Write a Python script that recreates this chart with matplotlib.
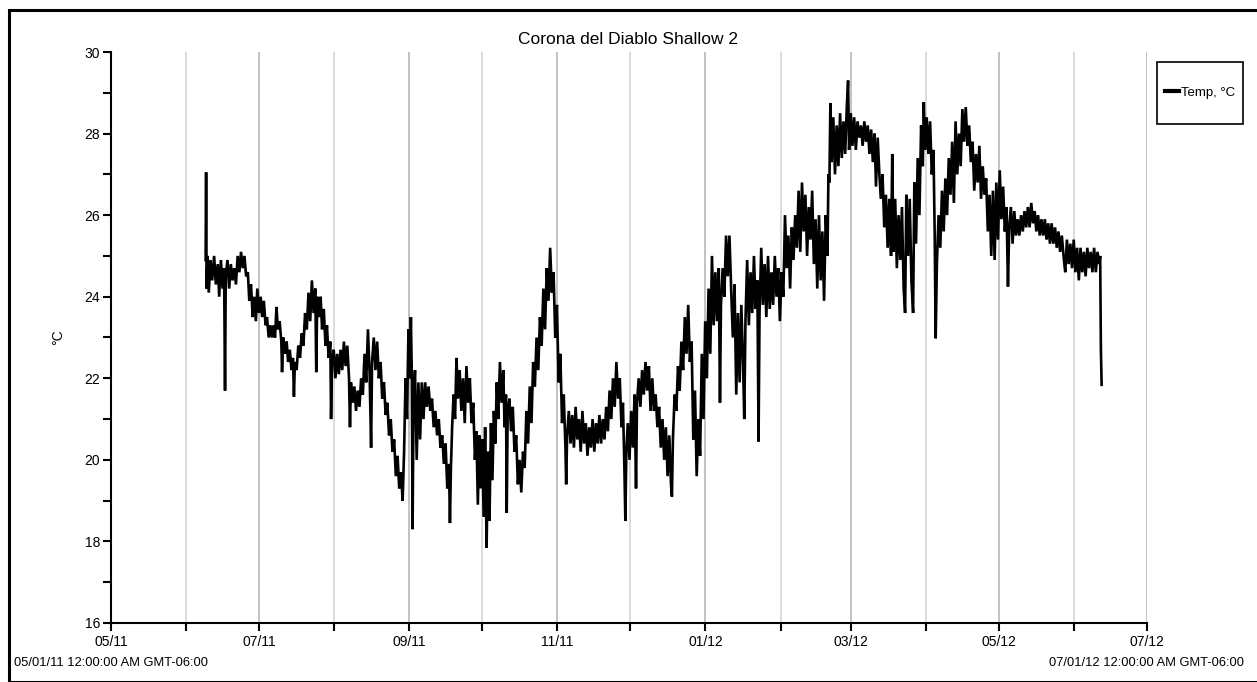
import numpy as np
import pandas as pd
import matplotlib
matplotlib.use("Agg")
import matplotlib.pyplot as plt
import matplotlib.dates as mdates
from matplotlib.patches import Rectangle

plt.rcParams['font.family'] = ['Liberation Sans', 'DejaVu Sans']

title = "Corona del Diablo Shallow 2"
series_name = "Temp, °C"
y_label = "°C"
start_label = "05/01/11 12:00:00 AM GMT-06:00"
end_label = "07/01/12 12:00:00 AM GMT-06:00"
origin = "2011-05-01"
x_start = "2011-05-01"
x_end = "2012-07-01"
y_ticks = [16, 18, 20, 22, 24, 26, 28, 30]

# day offsets from 2011-05-01 and temperatures (°C) (top/bottom of the noisy band)
days = [
 39.0, 39.2, 39.4, 39.8, 40.3, 41.0, 41.7, 42.5, 43.2, 44.0, 44.6, 45.3, 46.0, 46.6, 47.0, 47.3, 48.0, 48.7, 49.4, 50.1,
 50.8, 51.5, 52.2, 52.9, 53.6, 54.3, 55.0, 55.7, 56.4, 57.0, 57.7, 58.4, 59.0, 59.7, 60.3, 61.0, 61.7, 62.3, 63.0, 63.7,
 64.3, 65.0, 65.7, 66.3, 67.0, 67.6, 68.2, 68.8, 69.5, 70.2, 70.5, 71.0, 71.7, 72.4, 73.0, 73.7, 74.4, 75.0, 75.4, 75.8,
 76.5, 77.2, 77.9, 78.6, 79.3, 80.0, 80.7, 81.4, 82.1, 82.8, 83.5, 84.2, 84.6, 85.0, 85.7, 86.4, 87.0, 87.7, 88.4, 89.0,
 89.7, 90.4, 90.7, 91.1, 91.8, 92.5, 93.2, 93.9, 94.6, 95.3, 96.0, 96.7, 97.4, 98.1, 98.5, 98.9, 99.6, 100.3, 101.0, 101.7,
 102.4, 103.1, 103.8, 104.5, 105.2, 105.9, 106.6, 107.2, 107.6, 108.3, 109.0, 109.7, 110.4, 111.1, 111.8, 112.5, 113.2, 113.9, 114.6, 115.3,
 116.0, 116.7, 117.4, 118.1, 118.8, 119.5, 120.2, 120.8, 121.4, 122.0, 122.6, 123.2, 123.6, 124.0, 124.3, 124.7, 125.3, 126.0, 126.7, 127.4,
 128.1, 128.8, 129.5, 130.2, 130.9, 131.6, 132.3, 133.0, 133.7, 134.4, 135.1, 135.8, 136.5, 137.2, 137.9, 138.6, 139.3, 139.7, 140.1, 140.6,
 141.2, 141.8, 142.4, 143.0, 143.7, 144.4, 145.1, 145.8, 146.5, 147.2, 147.9, 148.6, 149.3, 150.0, 150.6, 151.2, 151.8, 152.4, 153.0, 153.6,
 154.2, 154.8, 155.4, 156.0, 156.6, 157.2, 157.8, 158.4, 159.0, 159.6, 160.3, 161.0, 161.7, 162.2, 162.8, 163.1, 163.5, 164.2, 164.9, 165.6,
 166.3, 167.0, 167.7, 168.4, 169.1, 169.8, 170.5, 171.2, 171.9, 172.6, 173.3, 174.0, 174.7, 175.4, 176.1, 176.8, 177.5, 178.2, 178.9, 179.6,
 180.3, 181.0, 181.7, 182.4, 183.1, 183.8, 184.5, 185.2, 185.9, 186.6, 187.3, 187.6, 188.0, 188.7, 189.4, 190.1, 190.8, 191.5, 192.2, 192.9,
 193.6, 194.3, 195.0, 195.7, 196.4, 197.1, 197.8, 198.5, 199.2, 199.9, 200.6, 201.3, 202.0, 202.7, 203.4, 204.1, 204.8, 205.5, 206.2, 206.9,
 207.6, 208.3, 209.0, 209.7, 210.4, 211.0, 211.6, 212.0, 212.4, 213.0, 213.7, 214.4, 215.1, 215.8, 216.4, 216.8, 217.5, 218.2, 218.9, 219.6,
 220.3, 221.0, 221.7, 222.4, 223.1, 223.8, 224.5, 225.2, 225.9, 226.6, 227.3, 228.0, 228.7, 229.4, 230.1, 230.8, 231.2, 231.6, 232.3, 233.0,
 233.7, 234.4, 235.1, 235.8, 236.5, 237.2, 237.9, 238.6, 239.3, 240.0, 240.7, 241.4, 242.1, 242.8, 243.5, 244.2, 244.9, 245.6, 246.3, 247.0,
 247.7, 248.4, 249.1, 249.8, 250.5, 251.0, 251.4, 252.1, 252.8, 253.5, 254.2, 254.9, 255.6, 256.3, 257.0, 257.7, 258.4, 259.1, 259.8, 260.5,
 261.0, 261.5, 262.2, 262.9, 263.6, 264.3, 265.0, 265.7, 266.4, 266.9, 267.3, 268.0, 268.7, 269.4, 270.1, 270.8, 271.5, 272.2, 272.9, 273.6,
 274.3, 275.0, 275.7, 276.4, 277.1, 277.8, 278.5, 279.2, 279.9, 280.6, 281.3, 282.0, 282.7, 283.4, 284.1, 284.8, 285.5, 286.2, 286.9, 287.6,
 288.3, 289.0, 289.7, 290.4, 291.1, 291.8, 292.5, 293.2, 293.9, 294.6, 295.3, 295.7, 296.1, 296.5, 297.0, 297.7, 298.4, 299.1, 299.8, 300.5,
 301.2, 301.9, 302.6, 303.3, 303.8, 304.2, 304.9, 305.6, 306.3, 307.0, 307.7, 308.4, 309.1, 309.8, 310.5, 311.2, 311.9, 312.6, 313.3, 314.0,
 314.7, 315.3, 316.0, 316.7, 317.3, 318.0, 318.7, 319.4, 320.1, 320.8, 321.5, 322.0, 322.5, 323.2, 323.9, 324.6, 325.3, 326.0, 326.7, 327.3,
 327.8, 328.5, 329.2, 329.9, 330.6, 331.1, 331.8, 332.5, 333.2, 333.9, 334.6, 335.0, 335.5, 336.2, 336.9, 337.6, 338.3, 339.0, 339.5, 339.9,
 340.4, 341.1, 341.8, 342.5, 343.2, 343.9, 344.6, 345.3, 346.0, 346.7, 347.4, 348.1, 348.8, 349.5, 350.2, 350.9, 351.6, 352.3, 353.0, 353.7,
 354.4, 355.1, 355.8, 356.5, 357.2, 357.9, 358.6, 359.3, 360.0, 360.7, 361.4, 362.1, 362.8, 363.5, 364.2, 364.9, 365.6, 366.3, 367.0, 367.7,
 368.4, 369.1, 369.7, 370.2, 370.9, 371.6, 372.3, 373.0, 373.7, 374.4, 375.1, 375.8, 376.5, 377.2, 377.9, 378.6, 379.3, 380.0, 380.7, 381.4,
 382.1, 382.8, 383.5, 384.2, 384.9, 385.6, 386.3, 387.0, 387.7, 388.4, 389.1, 389.8, 390.5, 391.2, 391.9, 392.6, 393.3, 394.0, 394.7, 395.4,
 396.1, 396.8, 397.5, 398.2, 398.9, 399.6, 400.3, 401.0, 401.7, 402.4, 403.1, 403.8, 404.5, 405.2, 405.9, 406.6, 407.3, 407.7, 408.0, 408.3,
]

temps = [
 24.9, 27.05, 24.2, 25.0, 24.1, 24.9, 24.4, 25.0, 24.3, 24.8, 24.0, 24.9, 24.2, 24.7, 21.7, 24.5, 24.9, 24.2, 24.8, 24.4,
 24.7, 24.3, 25.0, 24.6, 25.1, 24.7, 25.0, 24.5, 24.6, 23.9, 24.3, 23.5, 24.0, 23.4, 24.2, 23.6, 24.0, 23.5, 23.9, 23.3,
 23.5, 23.0, 23.3, 23.0, 23.3, 23.0, 23.75, 23.2, 23.4, 22.9, 22.15, 23.0, 22.6, 22.9, 22.4, 22.7, 22.2, 22.5, 21.55, 22.4,
 22.2, 22.8, 22.5, 23.1, 22.8, 23.6, 23.2, 24.1, 23.4, 24.4, 23.6, 24.2, 22.15, 24.0, 23.5, 24.0, 23.2, 23.7, 22.8, 23.3,
 22.5, 22.9, 21.0, 22.4, 22.7, 22.0, 22.6, 22.1, 22.7, 22.2, 22.9, 22.3, 22.8, 22.0, 20.8, 21.9, 21.4, 21.8, 21.2, 21.7,
 21.3, 22.0, 21.6, 22.6, 21.9, 23.2, 22.1, 20.3, 22.4, 23.0, 22.2, 22.9, 22.0, 22.4, 21.5, 21.9, 21.1, 21.4, 20.6, 21.0,
 20.2, 20.5, 19.6, 20.1, 19.3, 19.7, 19.0, 20.2, 22.0, 21.0, 23.2, 22.0, 23.5, 22.0, 18.3, 21.5, 22.2, 20.0, 21.9, 20.5,
 21.9, 21.0, 21.9, 21.3, 21.8, 21.2, 21.5, 20.8, 21.2, 20.6, 21.0, 20.3, 20.6, 19.9, 20.4, 19.3, 19.9, 18.45, 19.8, 20.8,
 21.6, 21.0, 22.5, 21.5, 22.2, 21.2, 22.0, 20.9, 22.3, 21.4, 22.0, 20.9, 21.4, 20.0, 20.7, 18.9, 20.6, 19.3, 20.5, 18.6,
 20.8, 17.84, 20.2, 18.5, 20.9, 19.5, 21.2, 20.4, 21.9, 21.0, 22.4, 21.4, 22.2, 20.8, 21.6, 18.7, 21.2, 21.5, 20.7, 21.3,
 20.2, 20.6, 19.4, 20.0, 19.2, 20.2, 19.8, 21.2, 20.4, 21.8, 20.9, 22.4, 21.8, 23.0, 22.2, 23.5, 22.8, 24.2, 23.2, 24.7,
 23.9, 25.2, 24.1, 24.6, 23.0, 23.8, 21.9, 22.6, 20.9, 21.6, 20.3, 19.4, 20.6, 21.2, 20.4, 21.1, 20.3, 21.3, 20.5, 21.0,
 20.2, 21.2, 20.4, 20.9, 20.1, 20.8, 20.3, 21.0, 20.2, 20.9, 20.4, 21.1, 20.4, 21.0, 20.5, 21.3, 20.7, 21.7, 21.0, 22.0,
 21.3, 22.4, 21.5, 22.0, 20.8, 21.4, 19.8, 18.5, 20.2, 20.9, 20.0, 21.2, 20.3, 21.6, 19.3, 21.4, 22.0, 21.3, 22.2, 21.6,
 22.4, 21.7, 22.3, 21.2, 22.0, 21.2, 21.6, 20.8, 21.3, 20.3, 21.0, 20.0, 20.8, 19.6, 20.6, 19.4, 19.1, 20.5, 21.6, 21.2,
 22.3, 21.7, 22.9, 22.2, 23.5, 22.6, 23.8, 22.4, 22.9, 20.5, 21.7, 19.6, 21.0, 20.1, 22.6, 21.0, 23.4, 22.0, 24.2, 22.6,
 25.0, 23.3, 24.6, 23.4, 24.7, 21.4, 23.8, 24.7, 24.0, 25.5, 24.5, 25.5, 24.2, 23.0, 24.3, 21.6, 23.6, 21.9, 23.8, 22.4,
 21.0, 23.4, 24.9, 23.3, 24.6, 23.6, 25.0, 23.7, 24.4, 20.45, 23.6, 25.2, 23.8, 24.8, 23.5, 25.0, 23.7, 24.6, 23.8, 25.0,
 24.0, 24.7, 23.4, 24.6, 24.0, 26.0, 24.7, 25.5, 24.2, 25.7, 24.9, 26.0, 25.2, 26.6, 25.1, 26.8, 25.6, 26.5, 25.0, 26.2,
 25.4, 26.6, 24.8, 25.9, 24.2, 26.0, 24.4, 25.6, 23.9, 26.0, 25.0, 27.0, 26.8, 28.75, 27.3, 28.4, 27.0, 28.2, 27.2, 28.5,
 27.4, 28.3, 27.5, 28.7, 29.3, 27.6, 28.5, 27.7, 28.4, 27.6, 28.3, 27.9, 28.2, 27.7, 28.3, 27.8, 28.2, 27.5, 28.1, 27.3,
 28.0, 26.7, 27.9, 27.0, 26.4, 27.0, 25.7, 26.5, 25.2, 26.4, 25.0, 27.5, 25.1, 26.4, 24.7, 26.0, 24.9, 26.2, 24.2, 23.6,
 26.5, 25.0, 26.4, 24.4, 23.6, 26.8, 25.3, 27.4, 26.0, 28.2, 27.2, 28.77, 27.6, 28.4, 27.5, 28.3, 27.0, 27.6, 25.5, 22.98,
 24.8, 26.0, 25.2, 26.6, 25.6, 26.9, 26.0, 27.4, 26.5, 27.8, 26.3, 28.3, 27.0, 28.0, 27.2, 28.6, 27.8, 28.65, 27.7, 28.2,
 27.3, 27.8, 26.6, 27.5, 26.8, 27.7, 26.4, 27.2, 26.5, 26.9, 25.6, 26.5, 25.0, 26.6, 24.9, 26.8, 25.4, 27.1, 25.9, 26.7,
 25.6, 26.2, 24.25, 25.7, 26.2, 25.3, 26.1, 25.5, 25.9, 25.5, 26.0, 25.6, 26.1, 25.7, 26.2, 25.7, 26.3, 25.8, 26.1, 25.6,
 26.0, 25.5, 25.9, 25.5, 25.9, 25.4, 25.8, 25.3, 25.8, 25.3, 25.7, 25.2, 25.6, 25.1, 25.5, 25.0, 24.6, 25.4, 24.8, 25.3,
 24.7, 25.4, 24.6, 25.2, 24.4, 25.2, 24.6, 25.1, 24.5, 25.2, 24.7, 25.1, 24.6, 25.2, 24.6, 25.1, 24.8, 25.0, 22.7, 21.84,
]

n = min(len(days), len(temps))
t = pd.Timestamp(origin) + pd.to_timedelta(np.array(days[:n]), unit="D")
v = np.array(temps[:n])

W, H = 1257, 682
fig = plt.figure(figsize=(W / 100, H / 100), dpi=100)
ax = fig.add_axes([111 / W, 1 - 623 / H, (1147 - 111) / W, (623 - 52) / H])

ax.plot(t, v, color="black", lw=1.9, label=series_name, solid_joinstyle="miter")

ax.set_xlim(pd.Timestamp(x_start), pd.Timestamp(x_end))
ax.set_ylim(y_ticks[0], y_ticks[-1])
ax.set_yticks(y_ticks)
ax.set_yticks(np.arange(17, 30, 2), minor=True)

ax.xaxis.set_major_locator(mdates.MonthLocator(bymonth=[1, 3, 5, 7, 9, 11]))
ax.xaxis.set_minor_locator(mdates.MonthLocator(bymonth=[2, 4, 6, 8, 10, 12]))
ax.xaxis.set_major_formatter(mdates.DateFormatter("%m/%y"))

ax.grid(False)
ax.xaxis.grid(True, which="major", color="#b8b8b8", lw=1.2)
ax.xaxis.grid(True, which="minor", color="#d6d6d6", lw=1.2)
ax.set_axisbelow(True)

for s in ["top", "right"]:
    ax.spines[s].set_visible(False)
for s in ["left", "bottom"]:
    ax.spines[s].set_color("black")
    ax.spines[s].set_linewidth(1.5)

ax.tick_params(axis="both", which="both", direction="out", length=6, width=1.5, colors="black",
               labelsize=10)
ax.tick_params(axis="x", pad=3)
ax.tick_params(axis="y", pad=2)

ax.set_ylabel(y_label, fontsize=10, labelpad=14)

fig.text(628 / W, 1 - 40 / H, title, ha="center", va="center", fontsize=12.5)
fig.text(14 / W, 1 - 663 / H, start_label, ha="left", va="center", fontsize=9.3)
fig.text(1244 / W, 1 - 663 / H, end_label, ha="right", va="center", fontsize=9.3)

# legend box
fig.patches.append(Rectangle((1157 / W, 1 - 124 / H), 86 / W, 62 / H, transform=fig.transFigure,
                             fill=False, edgecolor="black", lw=1.2))
leg = fig.legend(loc="center", bbox_to_anchor=(1200 / W, 1 - 93 / H), fontsize=9.5,
                 frameon=False, handlelength=1.1, handletextpad=0.15, borderpad=0, borderaxespad=0)
for line in leg.get_lines():
    line.set_linewidth(3)

fig.patches.append(Rectangle((9 / W, 0), 1 - 9 / W + 0.01, 1 - 10 / H, transform=fig.transFigure,
                             fill=False, edgecolor="black", lw=2.2))

fig.savefig("out.png", dpi=100)
